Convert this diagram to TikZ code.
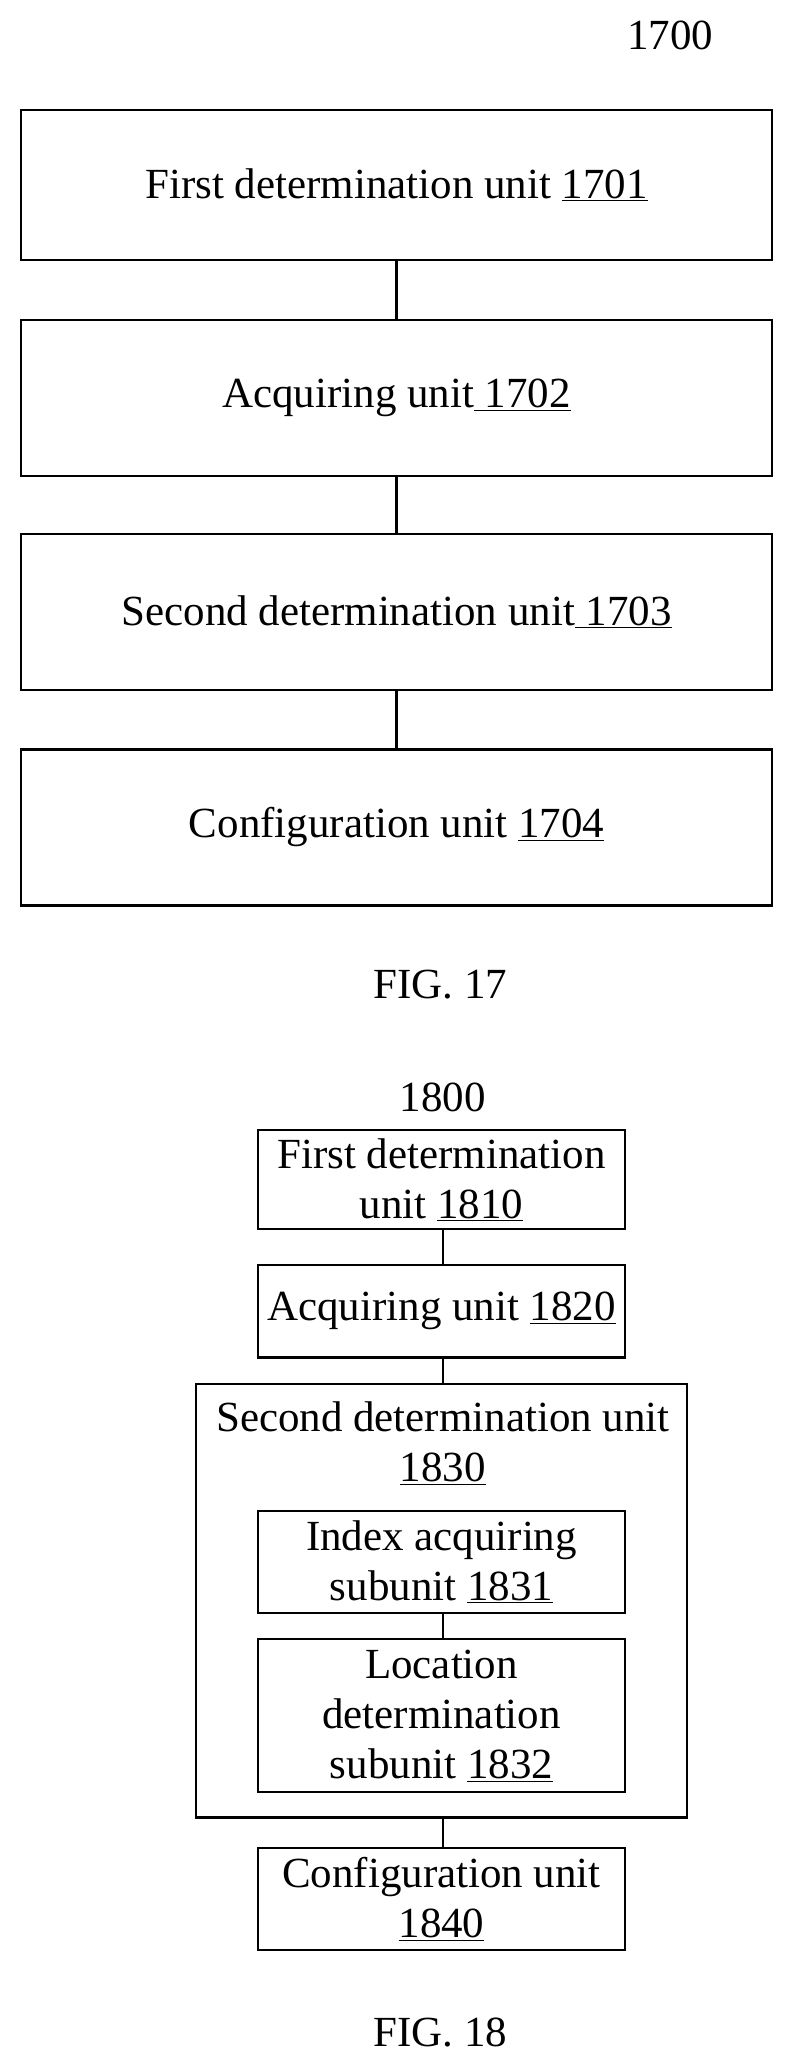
\documentclass[tikz,border=0pt]{standalone}
\usepackage{fontspec}
\setmainfont{Liberation Serif}
\begin{document}
\begin{tikzpicture}[x=1pt,y=-1pt,
  box/.style={draw,line width=1.6pt,align=center,font=\fontsize{32.5}{38}\selectfont},
  lab/.style={font=\fontsize{32.5}{38}\selectfont},
  con/.style={line width=1.6pt}]
\useasboundingbox (0,0) rectangle (600,1566);
\node[lab] (l1700) at (507,27) {1700};
\draw[box] (16,83) rectangle (584,197) node[midway,draw=none] (b1) {First determination unit \underline{1701}};
\draw[box] (16,242) rectangle (584,360) node[midway,draw=none] (b2) {Acquiring unit\underline{ 1702}};
\draw[box] (16,404) rectangle (584,522) node[midway,draw=none] (b3) {Second determination unit\underline{ 1703}};
\draw[box] (16,567) rectangle (584,685) node[midway,draw=none] (b4) {Configuration unit \underline{1704}};
\coordinate (c1t) at (300,197); \coordinate (c1b) at (300,242);
\coordinate (c2t) at (300,360); \coordinate (c2b) at (300,404);
\coordinate (c3t) at (300,522); \coordinate (c3b) at (300,567);
\draw[con] (c1t) -- (c1b); \draw[con] (c2t) -- (c2b); \draw[con] (c3t) -- (c3b);
\node[lab] (f17) at (333,745) {FIG. 17};

\node[lab] (l1800) at (335,830) {1800};
\draw[box] (195,855) rectangle (473,930) node[midway,draw=none] (d1) {First determination\\unit \underline{1810}};
\draw[box] (195,957) rectangle (473,1027) node[midway,draw=none] (d2) {Acquiring unit \underline{1820}};
\draw[box] (148,1047) rectangle (520,1375);
\node[lab,align=center] (d3) at (335,1092) {Second determination unit\\\underline{1830}};
\draw[box] (195,1143) rectangle (473,1220) node[midway,draw=none] (d31) {Index acquiring\\subunit \underline{1831}};
\draw[box] (195,1240) rectangle (473,1356) node[midway,draw=none] (d32) {Location\\determination\\subunit \underline{1832}};
\draw[box] (195,1398) rectangle (473,1475) node[midway,draw=none] (d4) {Configuration unit\\\underline{1840}};
\coordinate (e1t) at (335,930); \coordinate (e1b) at (335,957);
\coordinate (e2t) at (335,1027); \coordinate (e2b) at (335,1047);
\coordinate (e3t) at (335,1220); \coordinate (e3b) at (335,1240);
\coordinate (e4t) at (335,1375); \coordinate (e4b) at (335,1398);
\draw[con] (e1t)--(e1b); \draw[con] (e2t)--(e2b); \draw[con] (e3t)--(e3b); \draw[con] (e4t)--(e4b);
\node[lab] (f18) at (333,1538) {FIG. 18};
\end{tikzpicture}
\end{document}
